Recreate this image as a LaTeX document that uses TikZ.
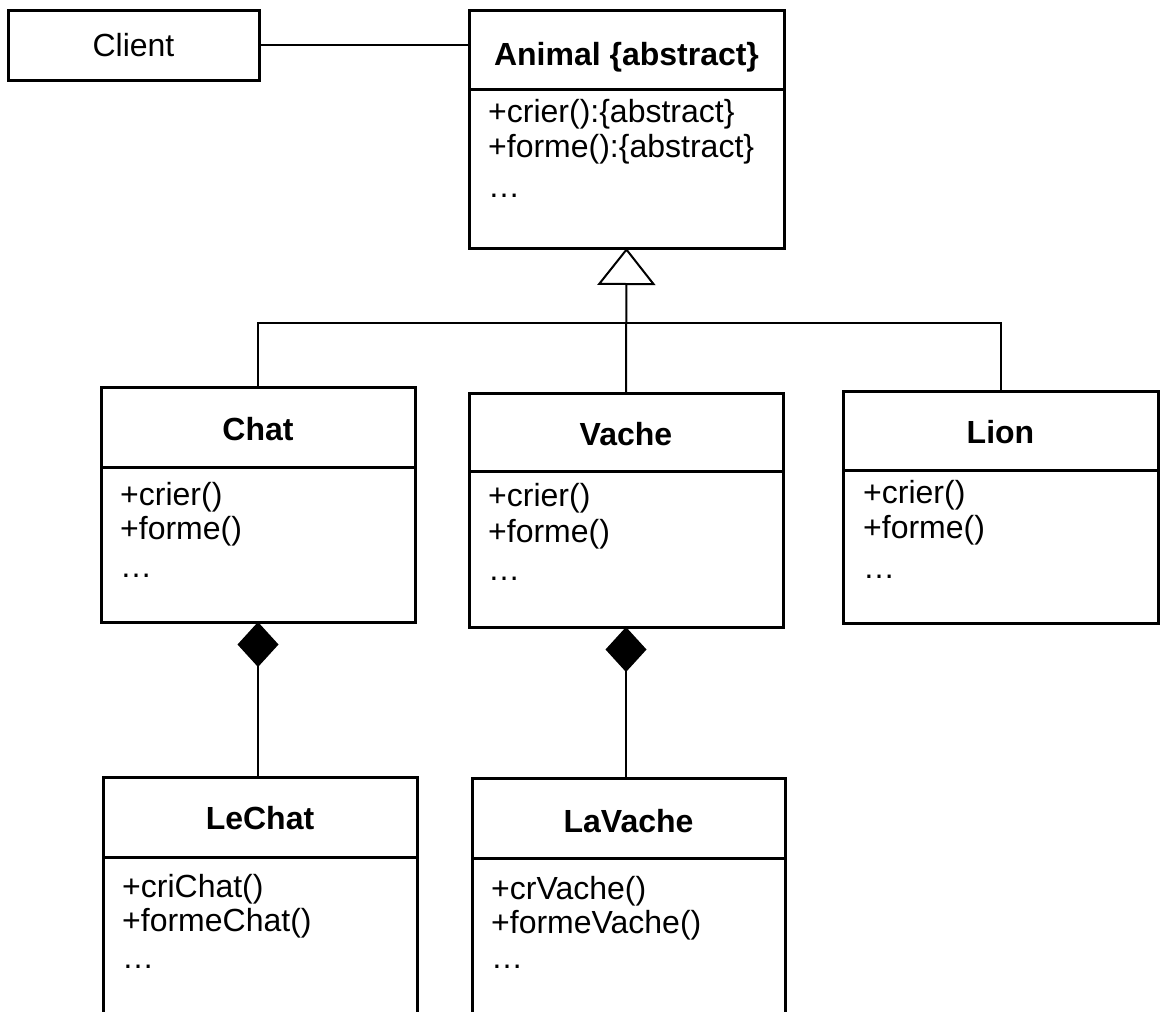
\documentclass[tikz,border=0pt]{standalone}
\usepackage{fontspec}
\setmainfont{Liberation Sans}
\usetikzlibrary{arrows.meta}

\tikzset{
  frame/.style={draw, line width=3pt, inner sep=0pt, outer sep=0pt},
  rule/.style={line width=3pt},
  link/.style={line width=2pt},
  titletext/.style={font=\fontsize{32}{38}\selectfont\bfseries, inner sep=0pt, anchor=base},
  membertext/.style={font=\fontsize{32}{38}\selectfont, inner sep=0pt, anchor=base west},
  inherit/.style={link, -{Triangle[open, length=37pt, width=58pt, fill=white]}},
  compose/.style={link, {Diamond[length=45pt, width=41pt]}-},
}

% #1 name, #2 left, #3 top, #4 right, #5 bottom, #6 divider, #7 title baseline, #8 title
\newcommand{\umlclass}[8]{%
  \node[frame, minimum width={#4-#2}, minimum height={#5-#3}] (#1) at ({(#2+#4)/2},{(#3+#5)/2}) {};
  \draw[rule] (#2,#6) -- (#4,#6);
  \node[titletext] (#1-title) at ({(#2+#4)/2},#7) {#8};
}
% #1 name, #2 x, #3..#5 baselines, #6..#8 lines
\newcommand{\umlmembers}[8]{%
  \node[membertext] (#1-m1) at (#2,#3) {#6};
  \node[membertext] (#1-m2) at (#2,#4) {#7};
  \node[membertext] (#1-m3) at (#2,#5) {#8};
}

\begin{document}
\begin{tikzpicture}[x=1pt, y=-1pt]
  \useasboundingbox (0,0) rectangle (1160,1012);
  \clip (0,0) rectangle (1160,1012);

  % client
  \node[frame, minimum width=251, minimum height=70, font=\fontsize{32}{38}\selectfont]
    (client) at (133.5,45) {Client};

  % abstract base class
  \umlclass{animal}{469}{10}{784}{248}{89}{65}{Animal \{abstract\}}
  \umlmembers{animal}{488}{122}{157}{197}{+crier():\{abstract\}}{+forme():\{abstract\}}{…}

  % concrete classes
  \umlclass{chat}{101}{387}{415}{622}{467}{440}{Chat}
  \umlmembers{chat}{120}{505}{539}{577}{+crier()}{+forme()}{…}

  \umlclass{vache}{469}{393}{783}{627}{471}{445}{Vache}
  \umlmembers{vache}{488}{506}{542}{580}{+crier()}{+forme()}{…}

  \umlclass{lion}{843}{391}{1158}{623}{470}{443}{Lion}
  \umlmembers{lion}{863}{503}{538}{578}{+crier()}{+forme()}{…}

  % component classes (open at the bottom)
  \umlclass{lechat}{103}{777}{417}{1060}{857}{829}{LeChat}
  \umlmembers{lechat}{122}{897}{931}{968}{+criChat()}{+formeChat()}{…}

  \umlclass{lavache}{472}{778}{785}{1060}{858}{832}{LaVache}
  \umlmembers{lavache}{491}{899}{933}{968}{+crVache()}{+formeVache()}{…}

  % association
  \draw[link] (client.east) -- (client.east -| animal.west);

  % inheritance tree
  \coordinate (bar) at (627,323);
  \draw[link] (chat.north) |- (bar) -| (lion.north);
  \draw[inherit] (vache.north) -- (animal.south);

  % compositions
  \draw[compose] (chat.south) -- (chat.south |- lechat.north);
  \draw[compose] (vache.south) -- (vache.south |- lavache.north);
\end{tikzpicture}
\end{document}
